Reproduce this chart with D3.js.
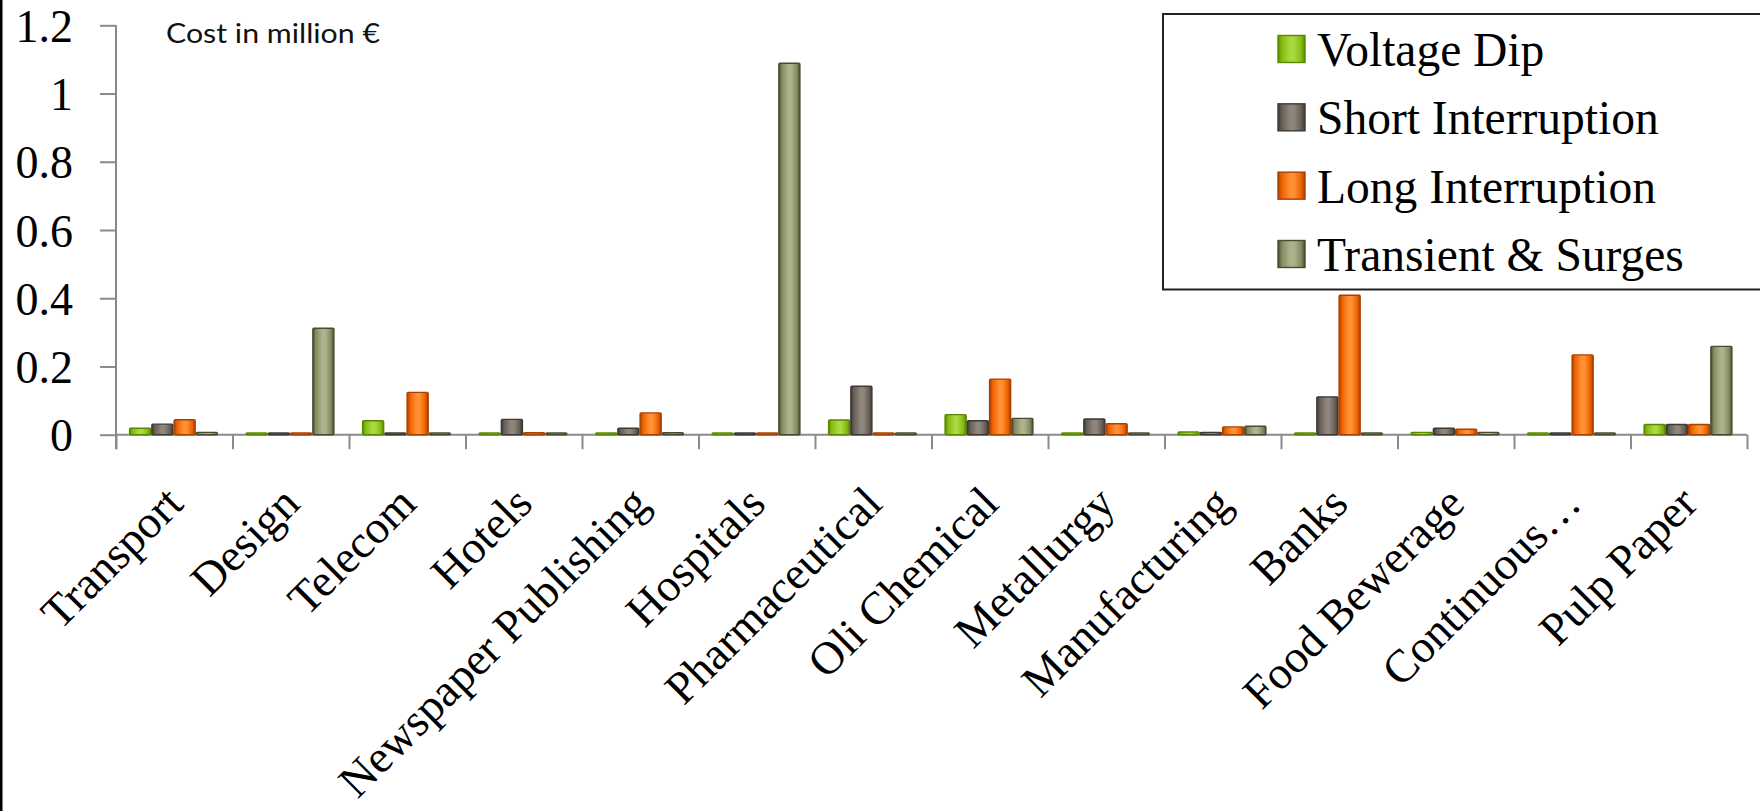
<!DOCTYPE html>
<html>
<head>
<meta charset="utf-8">
<script src="https://cdn.jsdelivr.net/npm/d3@7"></script>
<style>
  html, body { margin: 0; padding: 0; background: #fff; }
  svg { display: block; }
</style>
</head>
<body>
<svg id="chart" width="1760" height="811"></svg>
<script>
const categories = ["Transport", "Design", "Telecom", "Hotels", "Newspaper Publishing", "Hospitals",
  "Pharmaceutical", "Oli Chemical", "Metallurgy", "Manufacturing", "Banks", "Food Bewerage",
  "Continuous\u2026", "Pulp Paper"];
const seriesNames = ["Voltage Dip", "Short Interruption", "Long Interruption", "Transient & Surges"];
const voltageDip        = [0.016, 0.002, 0.038, 0.002, 0.002, 0.002, 0.040, 0.056, 0.002, 0.005, 0.002, 0.004, 0.002, 0.027];
const shortInterruption = [0.028, 0.002, 0.002, 0.042, 0.016, 0.002, 0.139, 0.038, 0.043, 0.004, 0.108, 0.016, 0.002, 0.027];
const longInterruption  = [0.041, 0.002, 0.121, 0.003, 0.061, 0.002, 0.002, 0.160, 0.029, 0.020, 0.406, 0.013, 0.231, 0.027];
const transientSurges   = [0.004, 0.309, 0.002, 0.002, 0.003, 1.086, 0.002, 0.045, 0.002, 0.022, 0.002, 0.004, 0.002, 0.256];
const yTickValues = [0, 0.2, 0.4, 0.6, 0.8, 1, 1.2];
const yTickLabels = ["0", "0.2", "0.4", "0.6", "0.8", "1", "1.2"];
const unitLabel = "Cost in million \u20ac";

const seriesValues = [voltageDip, shortInterruption, longInterruption, transientSurges];
const palette = [
  { dark: "#5a8800", base: "#84bb10", light: "#a9d840" },
  { dark: "#3e3933", base: "#675f56", light: "#8e867b" },
  { dark: "#a84000", base: "#ee6200", light: "#ff9033" },
  { dark: "#494c30", base: "#868a62", light: "#aeb28a" }
];

const svg = d3.select("#chart");
const serif = "'Liberation Serif', 'Times New Roman', serif";

// left border
svg.append("rect").attr("x", 0).attr("y", 0).attr("width", 2.5).attr("height", 811).attr("fill", "#000");

// gradients
const defs = svg.append("defs");
palette.forEach((p, i) => {
  const g = defs.append("linearGradient").attr("id", "g" + i)
    .attr("x1", "0%").attr("x2", "100%").attr("y1", "0%").attr("y2", "0%");
  [[0, p.dark], [0.14, p.base], [0.45, p.light], [0.6, p.light], [0.86, p.base], [1, p.dark]]
    .forEach(([o, c]) => g.append("stop").attr("offset", o).attr("stop-color", c));
});

const xLeft = 116, xRight = 1747, yZero = 434.7, yTop = 25.3;
const x = d3.scaleBand().domain(categories).range([xLeft, xRight]).padding(0);
const xs = d3.scaleBand().domain(seriesNames).range([13, 102]).padding(0);
const y = d3.scaleLinear().domain([0, 1.2]).range([yZero, yTop]);

const axisColor = "#8a8a8a";

// Y axis
const yAxis = svg.append("g").attr("transform", `translate(${xLeft},0)`)
  .call(d3.axisLeft(y).tickValues(yTickValues).tickFormat((d, i) => yTickLabels[i])
    .tickSize(16).tickSizeOuter(0).tickPadding(27));
yAxis.select(".domain").remove();
yAxis.selectAll(".tick line").attr("stroke", axisColor).attr("stroke-width", 2);
yAxis.selectAll(".tick text").attr("fill", "#000").attr("font-family", serif)
  .attr("font-size", 46).attr("dy", "0.35em");
svg.append("line").attr("x1", xLeft).attr("x2", xLeft).attr("y1", yTop).attr("y2", yZero + 14.5)
  .attr("stroke", axisColor).attr("stroke-width", 2);

// X axis baseline and category boundary ticks
svg.append("line").attr("x1", xLeft).attr("x2", xRight).attr("y1", yZero).attr("y2", yZero)
  .attr("stroke", axisColor).attr("stroke-width", 2);
const bounds = d3.scaleLinear().domain([0, categories.length]).range([xLeft, xRight]);
const xTicks = svg.append("g").attr("transform", `translate(0,${yZero})`)
  .call(d3.axisBottom(bounds).tickValues(d3.range(categories.length + 1)).tickFormat("")
    .tickSize(14.5).tickSizeOuter(0));
xTicks.select(".domain").remove();
xTicks.selectAll(".tick line").attr("stroke", axisColor).attr("stroke-width", 2);

// Bars
const groups = svg.append("g").selectAll("g").data(categories).join("g")
  .attr("transform", d => `translate(${x(d)},0)`);
groups.selectAll("rect").data((c, ci) => seriesNames.map((s, si) => ({ s, si, v: seriesValues[si][ci] })))
  .join("rect")
  .attr("x", d => xs(d.s) + 0.6)
  .attr("width", xs.bandwidth() - 1.2)
  .attr("y", d => y(d.v) - 1)
  .attr("height", d => yZero - y(d.v) + 1)
  .attr("fill", d => `url(#g${d.si})`)
  .attr("stroke", d => palette[d.si].dark)
  .attr("stroke-width", 1.4)
  .attr("rx", 1);

// X labels
svg.append("g").selectAll("text").data(categories).join("text")
  .attr("transform", d => `translate(${x(d) + x.bandwidth() / 2 + 11},506) rotate(-45)`)
  .attr("text-anchor", "end")
  .attr("font-family", serif).attr("font-size", 46).attr("fill", "#000")
  .text(d => d);

// unit label
svg.append("text").attr("x", 166).attr("y", 42.7)
  .attr("font-family", "'Lato', 'DejaVu Sans', sans-serif").attr("font-size", 26)
  .attr("textLength", 214).attr("lengthAdjust", "spacingAndGlyphs")
  .attr("fill", "#111").text(unitLabel);

// Legend
const lg = svg.append("g");
lg.append("rect").attr("x", 1163).attr("y", 14).attr("width", 620).attr("height", 275.5)
  .attr("fill", "#fff").attr("stroke", "#222").attr("stroke-width", 2);
const legendY = d3.scalePoint().domain(seriesNames).range([49, 254]);
const items = lg.selectAll("g.item").data(seriesNames).join("g").attr("class", "item")
  .attr("transform", d => `translate(1278,${legendY(d)})`);
items.append("rect").attr("x", 0).attr("y", -13.5).attr("width", 27).attr("height", 27)
  .attr("fill", (d, i) => `url(#g${i})`).attr("stroke", (d, i) => palette[i].dark).attr("stroke-width", 1.4);
items.append("text").attr("x", 39).attr("y", 17)
  .attr("font-family", serif).attr("font-size", 47.5).attr("fill", "#000").text(d => d);
</script>
</body>
</html>
